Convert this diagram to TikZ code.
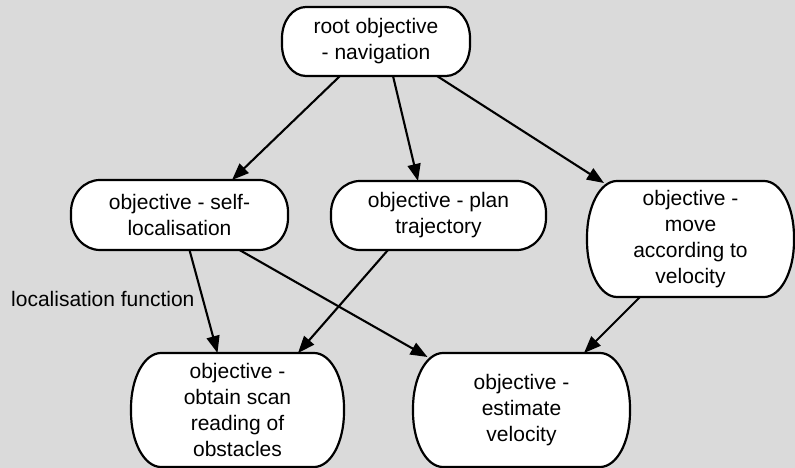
\documentclass[tikz,border=0pt]{standalone}
\usepackage{fontspec}
\setmainfont{Liberation Sans}
\usetikzlibrary{arrows.meta}

\pgfdeclarelayer{canvas}
\pgfdeclarelayer{boxes}
\pgfsetlayers{canvas,boxes,main}

\definecolor{canvasgray}{RGB}{218,218,218}

\tikzset{
  goal/.style={inner sep=0pt, outer sep=0pt, align=center,
    font=\fontsize{21}{26}\selectfont},
  link/.style={line width=2.1pt, -{Triangle[length=17pt,width=13pt]}},
  boxline/.style={line width=2.2pt, draw=black, fill=white},
}

% Rounded box with elliptical corners around node #1 (corner radii #2, #3 in pt)
\newcommand{\goalbox}[3]{%
  \draw[boxline]
    ([xshift=#2pt]#1.north west) -- ([xshift=-#2pt]#1.north east)
    arc[start angle=90, end angle=0, x radius=#2, y radius=#3]
    -- ([yshift=#3pt]#1.south east)
    arc[start angle=0, end angle=-90, x radius=#2, y radius=#3]
    -- ([xshift=#2pt]#1.south west)
    arc[start angle=270, end angle=180, x radius=#2, y radius=#3]
    -- ([yshift=-#3pt]#1.north west)
    arc[start angle=180, end angle=90, x radius=#2, y radius=#3]
    -- cycle;}

\begin{document}
\begin{tikzpicture}[x=1pt, y=1pt]
  \useasboundingbox (0,0) rectangle (795,468);
  \begin{pgfonlayer}{canvas}
    \fill[canvasgray] (0,0) rectangle (795,468);
  \end{pgfonlayer}

  % objectives
  \node[goal, minimum width=188pt, minimum height=69pt] (root) at (376,426.5)
    {root objective\\- navigation};
  \node[goal, minimum width=217pt, minimum height=70pt] (selfloc) at (179.5,253)
    {objective - self-\\localisation};
  \node[goal, minimum width=215pt, minimum height=69pt] (plan) at (438.5,252.5)
    {objective - plan\\trajectory};
  \node[goal, minimum width=207pt, minimum height=116pt] (move) at (690.5,229)
    {objective -\\move\\according to\\velocity};
  \node[goal, minimum width=213pt, minimum height=114pt] (scan) at (237.5,58)
    {objective -\\obtain scan\\reading of\\obstacles};
  \node[goal, minimum width=217pt, minimum height=114pt] (estimate) at (521.5,58)
    {objective -\\estimate\\velocity};

  \node[anchor=base west, inner sep=0pt, font=\fontsize{21}{26}\selectfont]
    (fnlabel) at (11,161) {localisation function};

  \begin{pgfonlayer}{boxes}
    \goalbox{root}{24}{31}
    \goalbox{selfloc}{29}{32}
    \goalbox{plan}{29}{32}
    \goalbox{move}{30}{56}
    \goalbox{scan}{30}{55}
    \goalbox{estimate}{30}{55}
  \end{pgfonlayer}

  % dependencies
  \draw[link] ([xshift=-36pt]root.south) -- ([xshift=52.5pt]selfloc.north);
  \draw[link] ([xshift=17pt]root.south) -- ([xshift=-20.5pt]plan.north);
  \draw[link] ([xshift=61pt]root.south) -- ([xshift=-86.5pt,yshift=-2pt]move.north);
  \draw[link] ([xshift=10pt]selfloc.south) -- ([xshift=-20pt]scan.north);
  \draw[link] ([xshift=60pt]selfloc.south) -- ([xshift=-94pt,yshift=-4pt]estimate.north);
  \draw[link] ([xshift=-50.5pt]plan.south) -- ([xshift=60.5pt]scan.north);
  \draw[link] ([xshift=-50.5pt]move.south) -- ([xshift=62.5pt]estimate.north);
\end{tikzpicture}
\end{document}
